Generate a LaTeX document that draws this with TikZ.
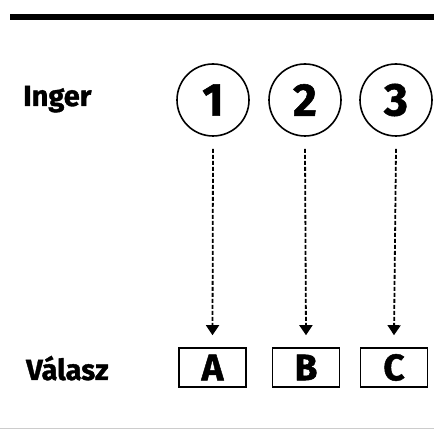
\documentclass[tikz,border=0pt]{standalone}
\usepackage{fontspec}
\setmainfont{Fira Sans}
\newfontfamily\heavy{Fira Sans}[UprightFont={* Bold},FakeBold=1.2]
\usetikzlibrary{arrows.meta}
\begin{document}
\begin{tikzpicture}[x=1pt,y=-1pt,
  stim/.style={draw,line width=1.6pt,circle,minimum size=72pt,inner sep=0pt,font=\fontsize{46}{46}\selectfont\heavy},
  resp/.style={draw,line width=1.6pt,rectangle,minimum width=67pt,minimum height=39pt,inner sep=0pt,font=\fontsize{37}{37}\selectfont\heavy},
  lbl/.style={anchor=base west,inner sep=0pt,font=\fontsize{29}{29}\selectfont\heavy},
  link/.style={line width=1.8pt,dash pattern=on 4pt off 2pt,-{Triangle[length=10pt,width=13pt]}}]
\useasboundingbox (0,0) rectangle (434,430);
\fill[white] (0,0) rectangle (434,430);
\draw[line width=5.5pt] (10,17) -- (434,17);
\draw[line width=0.8pt,black!20] (0,428.5) -- (434,428.5);
\node[lbl] (inger) at (23,106) {Inger};
\node[lbl] (valasz) at (26,380) {Válasz};
\node[stim] (s1) at (213,100) {1};
\node[stim] (s2) at (305,100) {2};
\node[stim] (s3) at (396,100) {3};
\node[resp] (rA) at (212.5,367.5) {A};
\node[resp] (rB) at (306,367.5) {B};
\node[resp] (rC) at (394,367.5) {C};
\draw[link] ([yshift=-12pt]s1.south) -- ([yshift=12pt]rA.north);
\draw[link] ([yshift=-12pt]s2.south) -- ([yshift=12pt]rB.north);
\draw[link] ([yshift=-12pt]s3.south) -- ([yshift=12pt]rC.north);
\end{tikzpicture}
\end{document}
